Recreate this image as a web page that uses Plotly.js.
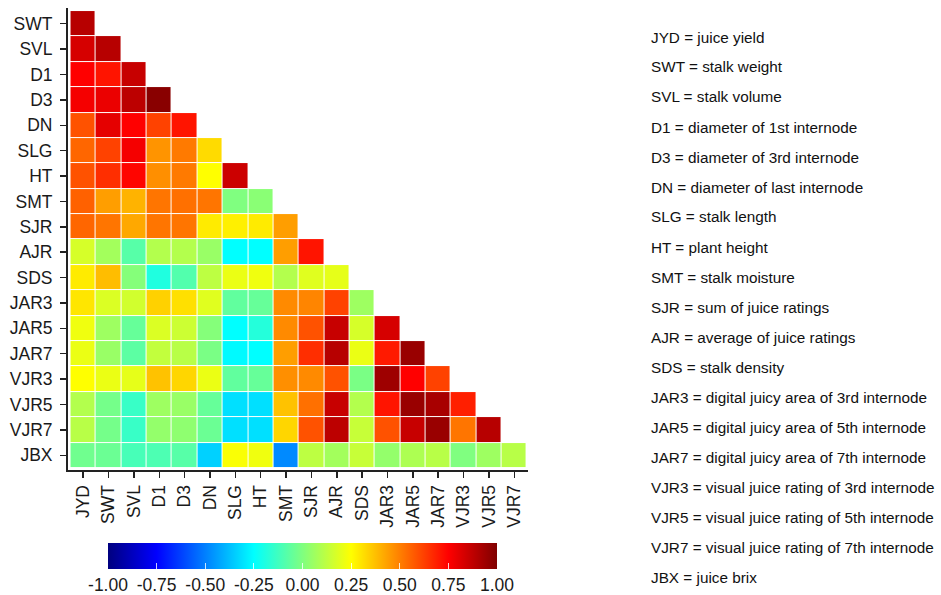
<!DOCTYPE html>
<html>
<head>
<meta charset="utf-8">
<script src="https://cdn.plot.ly/plotly-3.0.1.min.js"></script>
<style>html,body{margin:0;padding:0;background:#fff;}#chart{width:941px;height:595px;}</style>
</head>
<body>
<div id="chart"></div>
<script>
// Column (x) variables
const colVars = ["JYD","SWT","SVL","D1","D3","DN","SLG","HT","SMT","SJR","AJR","SDS","JAR3","JAR5","JAR7","VJR3","VJR5","VJR7"];
// Row (y) variables, top to bottom
const rowVars = ["SWT","SVL","D1","D3","DN","SLG","HT","SMT","SJR","AJR","SDS","JAR3","JAR5","JAR7","VJR3","VJR5","VJR7","JBX"];

// Lower-triangle correlation values, one array per row (length = row index + 1)
const rSWT  = [0.89];
const rSVL  = [0.83, 0.89];
const rD1   = [0.75, 0.71, 0.86];
const rD3   = [0.77, 0.79, 0.88, 0.98];
const rDN   = [0.59, 0.80, 0.75, 0.62, 0.71];
const rSLG  = [0.55, 0.62, 0.77, 0.46, 0.51, 0.32];
const rHT   = [0.59, 0.66, 0.74, 0.47, 0.51, 0.25, 0.85];
const rSMT  = [0.56, 0.44, 0.40, 0.52, 0.53, 0.52, 0.00, 0.02];
const rSJR  = [0.55, 0.52, 0.42, 0.52, 0.52, 0.29, 0.28, 0.29, 0.44];
const rAJR  = [0.17, 0.07, -0.08, 0.10, 0.10, 0.05, -0.25, -0.25, 0.44, 0.71];
const rSDS  = [0.29, 0.38, 0.01, -0.19, -0.09, 0.12, 0.21, 0.22, 0.10, 0.19, 0.20];
const rJAR3 = [0.30, 0.18, 0.16, 0.34, 0.31, 0.19, -0.06, -0.05, 0.48, 0.49, 0.62, 0.06];
const rJAR5 = [0.22, 0.06, -0.05, 0.18, 0.15, 0.01, -0.25, -0.18, 0.48, 0.59, 0.86, 0.17, 0.83];
const rJAR7 = [0.21, 0.05, -0.07, 0.13, 0.11, -0.01, -0.26, -0.25, 0.44, 0.66, 0.89, 0.21, 0.70, 0.95];
const rVJR3 = [0.25, 0.21, 0.20, 0.37, 0.33, 0.21, -0.06, -0.05, 0.47, 0.48, 0.59, -0.01, 0.94, 0.75, 0.62];
const rVJR5 = [0.10, -0.02, -0.14, 0.06, 0.05, -0.05, -0.31, -0.31, 0.37, 0.53, 0.86, 0.10, 0.71, 0.95, 0.92, 0.69];
const rVJR7 = [0.11, -0.02, -0.14, 0.04, 0.03, -0.04, -0.31, -0.31, 0.33, 0.59, 0.88, 0.14, 0.59, 0.86, 0.95, 0.52, 0.89];
const rJBX  = [-0.03, -0.04, -0.11, -0.10, -0.08, -0.34, 0.24, 0.22, -0.48, 0.12, 0.07, 0.14, 0.04, 0.09, 0.11, 0.00, 0.06, 0.11];

const rowValues = [rSWT, rSVL, rD1, rD3, rDN, rSLG, rHT, rSMT, rSJR, rAJR, rSDS, rJAR3, rJAR5, rJAR7, rVJR3, rVJR5, rVJR7, rJBX];

// Colorbar ticks
const cbTickVals = [-1, -0.75, -0.5, -0.25, 0, 0.25, 0.5, 0.75, 1];
const cbTickText = ["-1.00", "-0.75", "-0.50", "-0.25", "0.00", "0.25", "0.50", "0.75", "1.00"];

// Abbreviation key
const keyLines = [
  "JYD = juice yield",
  "SWT = stalk weight",
  "SVL = stalk volume",
  "D1 = diameter of 1st internode",
  "D3 = diameter of 3rd internode",
  "DN = diameter of last internode",
  "SLG = stalk length",
  "HT = plant height",
  "SMT = stalk moisture",
  "SJR = sum of juice ratings",
  "AJR = average of juice ratings",
  "SDS = stalk density",
  "JAR3 = digital juicy area of 3rd internode",
  "JAR5 = digital juicy area of 5th internode",
  "JAR7 = digital juicy area of 7th internode",
  "VJR3 = visual juice rating of 3rd internode",
  "VJR5 = visual juice rating of 5th internode",
  "VJR7 = visual juice rating of 7th internode",
  "JBX = juice brix"
];

// Build z matrix (nulls in upper triangle)
const z = rowValues.map(vals => colVars.map((c, j) => (j < vals.length ? vals[j] : null)));

const jet = [[0,'#00007F'],[0.125,'#0000FF'],[0.375,'#00FFFF'],[0.625,'#FFFF00'],[0.875,'#FF0000'],[1,'#7F0000']];

const W = 941, H = 595;
const M = {l: 68, r: 413, t: 8, b: 125, autoexpand: false};
const pw = W - M.l - M.r, ph = H - M.t - M.b;
const pxX = px => (px - M.l) / pw;
const pxY = py => (H - M.b - py) / ph;

const FONT = '"Liberation Sans", Arial, sans-serif';

const trace = {
  type: 'heatmap',
  x: colVars,
  y: rowVars,
  z: z,
  zmin: -1, zmax: 1,
  colorscale: jet,
  xgap: 1, ygap: 1,
  hoverongaps: false,
  colorbar: {
    orientation: 'h',
    lenmode: 'pixels', len: 389,
    thickness: 26,
    x: pxX(302.5), xanchor: 'center',
    y: pxY(543), yanchor: 'top',
    xpad: 0, ypad: 0,
    outlinewidth: 0,
    tickvals: cbTickVals,
    ticktext: cbTickText,
    ticks: 'inside', ticklen: 6, tickwidth: 1, tickcolor: 'rgba(255,255,255,0.8)',
    tickfont: {family: FONT, size: 17.5, color: '#1a1a1a'}
  }
};

const annotations = keyLines.map((t, i) => ({
  text: t, xref: 'paper', yref: 'paper',
  x: pxX(649), y: pxY(37 + i * 30),
  xanchor: 'left', yanchor: 'middle', showarrow: false,
  font: {family: FONT, size: 15.3, color: '#111'}
}));

const layout = {
  width: W, height: H,
  margin: M,
  paper_bgcolor: '#fff', plot_bgcolor: '#fff',
  font: {family: FONT},
  xaxis: {
    type: 'category', categoryarray: colVars, categoryorder: 'array',
    range: [-0.6, 17.54],
    showgrid: false, zeroline: false,
    showline: true, linecolor: '#222', linewidth: 2,
    ticks: 'outside', ticklen: 6, tickwidth: 1.5, tickcolor: '#222',
    tickangle: -90,
    automargin: false,
    tickfont: {family: FONT, size: 17.5, color: '#1a1a1a'},
    fixedrange: true
  },
  yaxis: {
    type: 'category', categoryarray: rowVars, categoryorder: 'array',
    range: [17.58, -0.62],
    showgrid: false, zeroline: false,
    showline: true, linecolor: '#222', linewidth: 2,
    ticks: 'outside', ticklen: 6, tickwidth: 1.5, tickcolor: '#222',
    ticklabelstandoff: 4,
    automargin: false,
    tickfont: {family: FONT, size: 17.5, color: '#1a1a1a'},
    fixedrange: true
  },
  annotations: annotations
};

Plotly.newPlot('chart', [trace], layout, {displayModeBar: false, staticPlot: true});
</script>
</body>
</html>
